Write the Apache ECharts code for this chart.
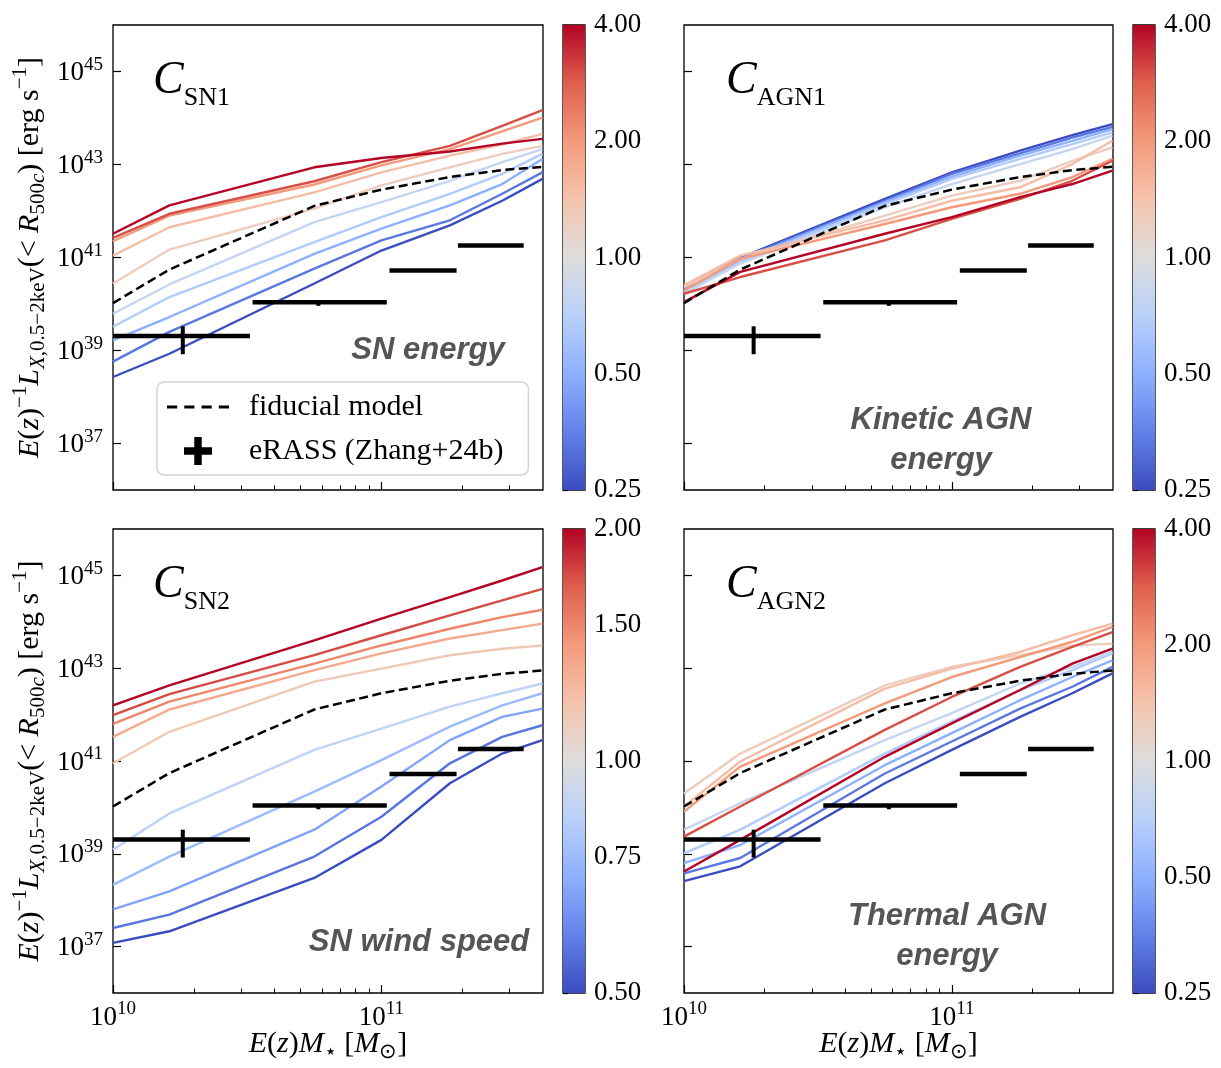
<!DOCTYPE html>
<html>
<head>
<meta charset="utf-8">
<script src="https://cdn.jsdelivr.net/npm/echarts@6.0.0/dist/echarts.min.js"></script>
<style>
  html, body { margin: 0; padding: 0; background: #fff; }
  #chart { width: 1221px; height: 1068px; }
</style>
</head>
<body>
<div id="chart"></div>
<script>
// x: log10 E(z)M* where the model curves are sampled
var massLog = [10.0, 10.21, 10.75, 11.0, 11.255, 11.45, 11.6];

// log10 L_X of the fiducial model (dashed, same in every panel)
var fiducialLog = [40.02, 40.74, 42.11, 42.46, 42.73, 42.88, 42.95];

// C_SN1 : SN energy
var sn1Params = [4, 3, 2, 1.5, 1.25, 0.8, 0.67, 0.5, 0.33, 0.25];
var sn1Lines = [
  [41.51, 42.12, 42.94, 43.14, 43.28, 43.45, 43.55],
  [41.42, 41.94, 42.64, 43.05, 43.40, 43.83, 44.17],
  [41.35, 41.90, 42.57, 42.98, 43.33, 43.71, 44.01],
  [41.04, 41.65, 42.40, 42.83, 43.19, 43.43, 43.66],
  [40.44, 41.17, 42.05, 42.55, 42.94, 43.23, 43.40],
  [39.79, 40.42, 41.76, 42.19, 42.65, 43.05, 43.33],
  [39.51, 40.15, 41.33, 41.87, 42.37, 42.80, 43.23],
  [39.22, 39.72, 41.08, 41.62, 42.12, 42.58, 43.12],
  [38.76, 39.40, 40.76, 41.37, 41.80, 42.37, 42.83],
  [38.43, 38.93, 40.44, 41.15, 41.69, 42.22, 42.69]
];

// C_AGN1 : kinetic AGN energy
var agn1Params = [4, 3, 2, 1.5, 1.25, 0.8, 0.67, 0.5, 0.33, 0.25];
var agn1Lines = [
  [40.04, 40.69, 41.51, 41.87, 42.30, 42.58, 42.87],
  [40.22, 40.58, 41.37, 41.83, 42.26, 42.65, 43.08],
  [40.29, 40.97, 41.72, 42.08, 42.37, 42.73, 43.12],
  [40.40, 41.04, 41.80, 42.22, 42.51, 43.01, 43.51],
  [40.36, 40.97, 41.90, 42.33, 42.65, 43.08, 43.37],
  [40.22, 40.87, 42.08, 42.58, 43.01, 43.33, 43.62],
  [40.26, 40.90, 42.15, 42.69, 43.12, 43.44, 43.69],
  [40.29, 40.94, 42.19, 42.74, 43.19, 43.51, 43.76],
  [40.33, 40.97, 42.22, 42.80, 43.24, 43.58, 43.81],
  [40.36, 40.99, 42.26, 42.83, 43.30, 43.63, 43.87]
];

// C_SN2 : SN wind speed
var sn2Params = [2, 1.75, 1.5, 1.33, 1.15, 0.87, 0.75, 0.67, 0.57, 0.5];
var sn2Lines = [
  [42.20, 42.63, 43.60, 44.07, 44.53, 44.89, 45.18],
  [41.99, 42.44, 43.28, 43.71, 44.14, 44.46, 44.71],
  [41.80, 42.28, 43.10, 43.49, 43.85, 44.10, 44.26],
  [41.52, 42.11, 42.96, 43.32, 43.64, 43.82, 43.96],
  [40.95, 41.63, 42.71, 42.99, 43.28, 43.42, 43.49],
  [39.09, 39.87, 41.24, 41.70, 42.17, 42.46, 42.67],
  [38.33, 38.94, 40.34, 41.02, 41.74, 42.20, 42.46],
  [37.80, 38.19, 39.52, 40.45, 41.45, 41.95, 42.13],
  [37.40, 37.69, 38.94, 39.80, 40.95, 41.52, 41.77],
  [37.08, 37.33, 38.48, 39.30, 40.52, 41.16, 41.45]
];

// C_AGN2 : thermal AGN energy
var agn2Params = [4, 3, 2, 1.5, 1.25, 0.8, 0.67, 0.5, 0.33, 0.25];
var agn2Lines = [
  [38.62, 39.30, 41.09, 41.81, 42.53, 43.10, 43.42],
  [39.37, 40.02, 41.67, 42.38, 43.03, 43.46, 43.78],
  [39.91, 40.88, 42.24, 42.81, 43.24, 43.57, 43.89],
  [40.02, 40.99, 42.56, 42.99, 43.35, 43.71, 43.96],
  [40.30, 41.16, 42.63, 43.03, 43.28, 43.49, 43.53],
  [39.52, 40.09, 41.45, 42.03, 42.67, 43.03, 43.35],
  [39.01, 39.52, 41.16, 41.85, 42.53, 42.96, 43.32],
  [38.80, 39.19, 40.91, 41.60, 42.31, 42.81, 43.17],
  [38.58, 38.91, 40.73, 41.42, 42.13, 42.60, 43.03],
  [38.41, 38.73, 40.52, 41.24, 41.95, 42.46, 42.89]
];

// eRASS (Zhang+24b) stacked points, log10 values
var erassX   = [10.26, 10.765, 11.155, 11.41];
var erassXlo = [10.0, 10.52, 11.03, 11.285];
var erassXhi = [10.51, 11.02, 11.28, 11.53];
var erassY   = [39.31, 40.04, 40.72, 41.26];
var erassYlo = [38.92, 39.96, 40.69, 41.23];
var erassYhi = [39.52, 40.07, 40.75, 41.29];

// ticks
var yTickExp = [37, 39, 41, 43, 45];
var xTickExp = [10, 11];
var xMinorMult = [2, 3, 4, 5, 6, 7, 8, 9, 20, 30];
var cbTicksWide = [0.25, 0.5, 1, 2, 4];
var cbTicksNarrow = [0.5, 0.75, 1, 1.5, 2];

var panels = [
  { params: sn1Params, lines: sn1Lines, cb: cbTicksWide, sub: 'SN1' },
  { params: agn1Params, lines: agn1Lines, cb: cbTicksWide, sub: 'AGN1' },
  { params: sn2Params, lines: sn2Lines, cb: cbTicksNarrow, sub: 'SN2' },
  { params: agn2Params, lines: agn2Lines, cb: cbTicksWide, sub: 'AGN2' }
];

// layout
var serif = 'Liberation Serif';
var panelGrids = [
  { left: 113, top: 25, width: 430, height: 465 },
  { left: 684, top: 25, width: 429, height: 465 },
  { left: 113, top: 529, width: 430, height: 464 },
  { left: 684, top: 529, width: 429, height: 464 }
];
var cbGrids = [
  { left: 563, top: 25, width: 22, height: 465 },
  { left: 1133, top: 25, width: 22, height: 465 },
  { left: 563, top: 529, width: 22, height: 464 },
  { left: 1133, top: 529, width: 22, height: 464 }
];

// matplotlib coolwarm
var cwStops = [[59,76,192],[98,130,234],[141,176,254],[184,208,249],[221,221,221],
               [245,196,173],[244,154,123],[222,96,77],[180,4,38]];
function coolwarm(t) {
  t = Math.max(0, Math.min(1, t));
  var s = t * 8, i = Math.min(7, Math.floor(s)), f = s - i;
  var a = cwStops[i], b = cwStops[i + 1];
  return 'rgb(' + Math.round(a[0] + (b[0] - a[0]) * f) + ',' +
    Math.round(a[1] + (b[1] - a[1]) * f) + ',' + Math.round(a[2] + (b[2] - a[2]) * f) + ')';
}
function cbGradient() {
  var stops = [];
  for (var i = cwStops.length - 1; i >= 0; i--) {
    var c = cwStops[i];
    stops.push({ offset: 1 - i / 8, color: 'rgb(' + c[0] + ',' + c[1] + ',' + c[2] + ')' });
  }
  return new echarts.graphic.LinearGradient(0, 0, 0, 1, stops);
}

var tickRich = {
  b: { fontFamily: serif, fontSize: 27, lineHeight: 30, verticalAlign: 'bottom', color: '#000' },
  s: { fontFamily: serif, fontSize: 19, lineHeight: 20, verticalAlign: 'bottom', padding: [0, 0, 12, 0], color: '#000' }
};
var nameRich = {
  i: { fontFamily: serif, fontStyle: 'italic', fontSize: 30, lineHeight: 33, verticalAlign: 'bottom', padding: [0, 0, 5, 0], color: '#000' },
  r: { fontFamily: serif, fontSize: 30, lineHeight: 33, verticalAlign: 'bottom', padding: [0, 0, 5, 0], color: '#000' },
  sup: { fontFamily: serif, fontSize: 21, lineHeight: 22, verticalAlign: 'bottom', padding: [0, 0, 19, 0], color: '#000' },
  sub: { fontFamily: serif, fontSize: 21, lineHeight: 22, verticalAlign: 'bottom', padding: [0, 0, 1, 0], color: '#000' },
  subi: { fontFamily: serif, fontStyle: 'italic', fontSize: 21, lineHeight: 22, verticalAlign: 'bottom', padding: [0, 0, 1, 0], color: '#000' }
};
var yName = '{i|E}{r|(}{i|z}{r|)}{sup|\u22121}{i|L}{subi|X}{sub|,0.5\u22122keV}{r|(< }{i|R}{sub|500}{subi|c}{r|) [erg s}{sup|\u22121}{r|]}';
var xName = '{i|E}{r|(}{i|z}{r|)}{i|M}{sub|\u22c6}{r| [}{i|M}{sub|\u2299}{r|]}';

function powLabel(v) { return '{b|10}{s|' + Math.round(v) + '}'; }

var xMinorTicks = xMinorMult.map(function (m) { return 10 + Math.log10(m); });

var grids = [], xAxes = [], yAxes = [], series = [];
panelGrids.concat(cbGrids).forEach(function (g) {
  grids.push(Object.assign({ show: true, borderColor: '#000', borderWidth: 1.3, outerBoundsMode: 'none' }, g));
});

// main x axes (major ticks, labels)
panels.forEach(function (p, k) {
  xAxes.push({
    gridIndex: k, type: 'value', min: 10, max: 11.602, position: 'bottom',
    axisLine: { show: false }, splitLine: { show: false },
    axisTick: { show: true, inside: true, length: 8, customValues: xTickExp, lineStyle: { color: '#000', width: 1.2 } },
    axisLabel: { show: k >= 2, customValues: xTickExp, formatter: powLabel, rich: tickRich, margin: 8 },
    name: k >= 2 ? xName : '', nameLocation: 'middle', nameGap: 38, nameMoveOverlap: false,
    nameTextStyle: { rich: nameRich }
  });
});
// minor x ticks
panels.forEach(function (p, k) {
  xAxes.push({
    gridIndex: k, type: 'value', min: 10, max: 11.602, position: 'bottom',
    axisLine: { show: false }, splitLine: { show: false }, axisLabel: { show: false },
    axisTick: { show: true, inside: true, length: 4.5, customValues: xMinorTicks, lineStyle: { color: '#000', width: 1 } }
  });
});
// colorbar x (hidden)
panels.forEach(function (p, k) {
  xAxes.push({ gridIndex: 4 + k, type: 'value', min: 0, max: 1, show: false });
});

panels.forEach(function (p, k) {
  yAxes.push({
    gridIndex: k, type: 'value', min: 36, max: 46,
    axisLine: { show: false }, splitLine: { show: false },
    axisTick: { show: true, inside: true, length: 8, customValues: yTickExp, lineStyle: { color: '#000', width: 1.2 } },
    axisLabel: { show: k % 2 === 0, customValues: yTickExp, formatter: powLabel, rich: tickRich, margin: 10 },
    name: k % 2 === 0 ? yName : '', nameLocation: 'middle', nameRotate: 90, nameGap: 63, nameMoveOverlap: false,
    nameTextStyle: { rich: nameRich }
  });
});
panels.forEach(function (p, k) {
  var lt = p.cb.map(function (v) { return Math.log2(v); });
  yAxes.push({
    gridIndex: 4 + k, type: 'value', position: 'right', min: lt[0], max: lt[lt.length - 1],
    axisLine: { show: false }, splitLine: { show: false },
    axisTick: { show: true, inside: false, length: 5, customValues: lt, lineStyle: { color: '#000', width: 1.2 } },
    axisLabel: {
      customValues: lt, margin: 9, fontFamily: serif, fontSize: 27, color: '#000',
      formatter: function (v) { return Math.pow(2, v).toFixed(2); }
    }
  });
});

panels.forEach(function (p, k) {
  var lo = Math.log(p.cb[0]), hi = Math.log(p.cb[p.cb.length - 1]);
  // colorbar
  series.push({
    type: 'custom', xAxisIndex: 8 + k, yAxisIndex: 4 + k, silent: true,
    data: [[0, Math.log2(p.cb[0]), 1, Math.log2(p.cb[p.cb.length - 1])]],
    encode: { x: [0, 2], y: [1, 3] },
    renderItem: function (params, api) {
      var a = api.coord([api.value(0), api.value(3)]);
      var b = api.coord([api.value(2), api.value(1)]);
      return { type: 'rect', shape: { x: a[0], y: a[1], width: b[0] - a[0], height: b[1] - a[1] },
               style: { fill: cbGradient() } };
    }
  });
  // model curves, low values first
  for (var j = p.params.length - 1; j >= 0; j--) {
    var col = coolwarm((Math.log(p.params[j]) - lo) / (hi - lo));
    series.push({
      type: 'line', xAxisIndex: k, yAxisIndex: k, silent: true, symbol: 'none', z: 2,
      data: massLog.map(function (m, i) { return [m, p.lines[j][i]]; }),
      lineStyle: { color: col, width: 2.4 }, itemStyle: { color: col }
    });
  }
  series.push({
    name: 'fiducial model', type: 'line', xAxisIndex: k, yAxisIndex: k, silent: true, symbol: 'none', z: 4,
    data: massLog.map(function (m, i) { return [m, fiducialLog[i]]; }),
    lineStyle: { color: '#000', width: 2.5, type: [9, 4.5] }, itemStyle: { color: '#000' }
  });
  series.push({
    name: 'eRASS (Zhang+24b)', type: 'custom', xAxisIndex: k, yAxisIndex: k, silent: true, z: 5,
    itemStyle: { color: '#000' },
    data: erassX.map(function (x, i) {
      return [x, erassY[i], erassXlo[i], erassXhi[i], erassYlo[i], erassYhi[i]];
    }),
    encode: { x: [0, 2, 3], y: [1, 4, 5] },
    renderItem: function (params, api) {
      var c = api.coord([api.value(0), api.value(1)]);
      var xl = api.coord([api.value(2), api.value(1)]);
      var xh = api.coord([api.value(3), api.value(1)]);
      var yl = api.coord([api.value(0), api.value(4)]);
      var yh = api.coord([api.value(0), api.value(5)]);
      return { type: 'group', children: [
        { type: 'line', shape: { x1: xl[0], y1: c[1], x2: xh[0], y2: c[1] }, style: { stroke: '#000', lineWidth: 4.5 } },
        { type: 'line', shape: { x1: c[0], y1: yl[1], x2: c[0], y2: yh[1] }, style: { stroke: '#000', lineWidth: 4 } }
      ] };
    }
  });
});

var titleRich = {
  c: { fontFamily: serif, fontStyle: 'italic', fontSize: 46, lineHeight: 50, verticalAlign: 'bottom', padding: [0, 0, 7, 0], color: '#000' },
  s: { fontFamily: serif, fontSize: 26, lineHeight: 28, verticalAlign: 'bottom', color: '#000' }
};
var titlePos = [[153, 61], [726, 61], [153, 565], [726, 565]];
var notes = [
  { x: 428, y: 350, text: 'SN energy' },
  { x: 941, y: 420, text: 'Kinetic AGN' },
  { x: 941, y: 460, text: 'energy' },
  { x: 419, y: 942, text: 'SN wind speed' },
  { x: 947, y: 916, text: 'Thermal AGN' },
  { x: 947, y: 956, text: 'energy' }
];
var graphics = [];
panels.forEach(function (p, k) {
  graphics.push({
    type: 'text', x: titlePos[k][0], y: titlePos[k][1], z: 10, silent: true,
    style: { text: '{c|C}{s|' + p.sub + '}', rich: titleRich, align: 'left', verticalAlign: 'top' }
  });
});
notes.forEach(function (n) {
  graphics.push({
    type: 'text', x: n.x, y: n.y, z: 10, silent: true,
    style: {
      text: n.text, fill: '#555555', fontFamily: 'Liberation Sans', fontWeight: 'bold', fontStyle: 'italic',
      fontSize: 31, align: 'center', verticalAlign: 'middle', textAlign: 'center', textVerticalAlign: 'middle'
    }
  });
});

var chart = echarts.init(document.getElementById('chart'));
chart.setOption({
  animation: false,
  backgroundColor: '#fff',
  textStyle: { fontFamily: serif, color: '#000' },
  grid: grids,
  xAxis: xAxes,
  yAxis: yAxes,
  legend: {
    selectedMode: false, orient: 'vertical', left: 157, top: 382,
    padding: [10, 25, 9, 10], itemGap: 14, itemWidth: 62, itemHeight: 28, symbolKeepAspect: true,
    backgroundColor: 'rgba(255,255,255,0.85)', borderColor: '#d4d4d4', borderWidth: 1.5, borderRadius: 7,
    textStyle: { fontFamily: serif, fontSize: 30, color: '#000', padding: [0, 0, 0, 15] },
    data: [
      { name: 'fiducial model',
        icon: 'path://M0,0H10V3H0Z M17,0H27V3H17Z M34,0H44V3H34Z M51,0H61V3H51Z' },
      { name: 'eRASS (Zhang+24b)', icon: 'path://M11,0H19V11H30V19H19V30H11V19H0V11H11Z' }
    ]
  },
  graphic: graphics,
  series: series
});
</script>
</body>
</html>
